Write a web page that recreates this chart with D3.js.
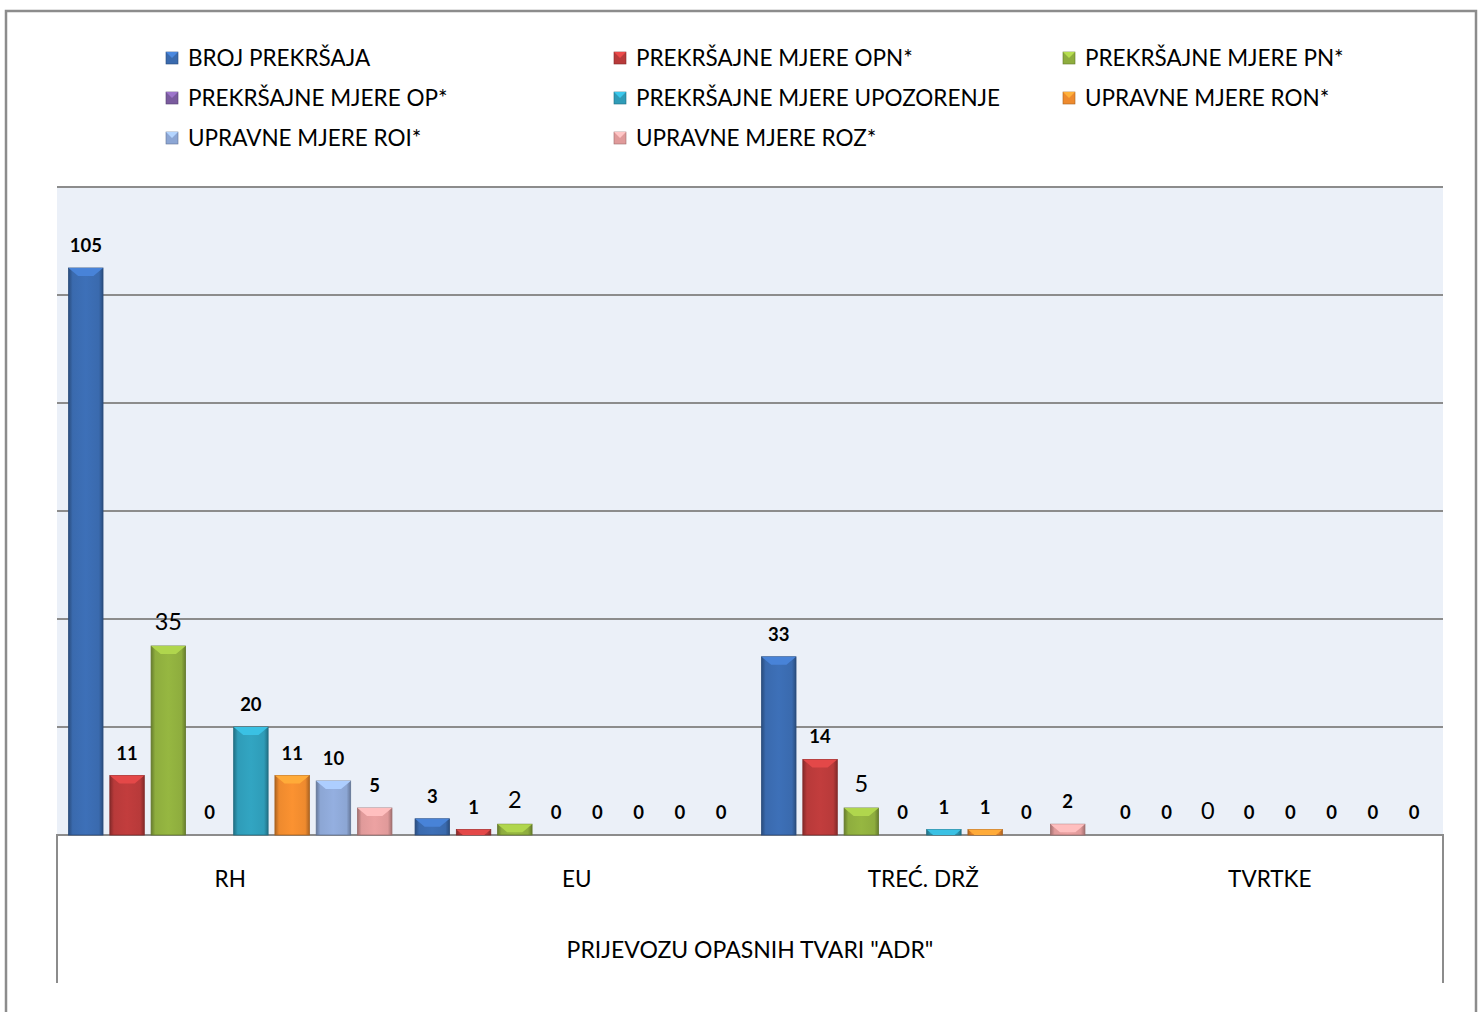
<!DOCTYPE html>
<html>
<head>
<meta charset="utf-8">
<script src="https://cdn.jsdelivr.net/npm/d3@7"></script>
<style>
  body { margin: 0; background: #fff; }
  text { font-family: Lato, "Open Sans", sans-serif; }
</style>
</head>
<body>
<div id="chart"></div>
<script>
"use strict";
// categories and series
const categories = ["RH", "EU", "TREĆ. DRŽ", "TVRTKE"]
const groupLabel = 'PRIJEVOZU OPASNIH TVARI "ADR"'
const seriesNames = [
  "BROJ PREKRŠAJA", "PREKRŠAJNE MJERE OPN*", "PREKRŠAJNE MJERE PN*",
  "PREKRŠAJNE MJERE OP*", "PREKRŠAJNE MJERE UPOZORENJE", "UPRAVNE MJERE RON*",
  "UPRAVNE MJERE ROI*", "UPRAVNE MJERE ROZ*"
]
const brojPrekrsaja = [105, 3, 33, 0]
const mjereOPN = [11, 1, 14, 0]
const mjerePN = [35, 2, 5, 0]
const mjereOP = [0, 0, 0, 0]
const mjereUpozorenje = [20, 0, 1, 0]
const mjereRON = [11, 0, 1, 0]
const mjereROI = [10, 0, 0, 0]
const mjereROZ = [5, 0, 2, 0]
const yTicks = [0, 20, 40, 60, 80, 100, 120]

const seriesValues = [brojPrekrsaja, mjereOPN, mjerePN, mjereOP, mjereUpozorenje, mjereRON, mjereROI, mjereROZ]
const colors = ["#3a6aae", "#b83a3a", "#8ead3e", "#7a5b9e", "#2f9cb8", "#ee8a2e", "#8ca6d4", "#e09a9a"]

const m = { width: 1481, height: 1012 }
const plot = { left: 57, right: 1443, top: 187, bottom: 835 }

const svg = d3.select("#chart").append("svg")
    .attr("width", m.width)
    .attr("height", m.height)

const defs = svg.append("defs")
colors.forEach(function(c, i){
  let base = d3.color(c)
  let g = defs.append("linearGradient").attr("id", "grad" + i)
  g.append("stop").attr("offset", "0%").attr("stop-color", base.darker(0.9))
  g.append("stop").attr("offset", "12%").attr("stop-color", base)
  g.append("stop").attr("offset", "50%").attr("stop-color", base.brighter(0.15))
  g.append("stop").attr("offset", "88%").attr("stop-color", base)
  g.append("stop").attr("offset", "100%").attr("stop-color", base.darker(0.9))
})

// outer frame
svg.append("path")
    .attr("d", "M6,1012V11H1476V1012")
    .attr("fill", "none")
    .attr("stroke", "#8c8c8c")
    .attr("stroke-width", 2.5)

// scales
const x0 = d3.scaleBand()
    .domain(categories)
    .range([plot.left, plot.right])
    .padding(0)
const x1 = d3.scaleBand()
    .domain(d3.range(seriesNames.length))
    .range([0, x0.bandwidth()])
    .paddingInner(0.165)
    .paddingOuter(0.28)
const y = d3.scaleLinear()
    .domain([0, 120])
    .range([plot.bottom, plot.top])

// plot background + gridlines
svg.append("rect")
    .attr("x", plot.left)
    .attr("y", plot.top)
    .attr("width", plot.right - plot.left)
    .attr("height", plot.bottom - plot.top)
    .attr("fill", "#ebf0f8")
svg.append("g")
    .selectAll("line")
    .data(yTicks)
    .enter()
    .append("line")
      .attr("x1", plot.left)
      .attr("x2", plot.right)
      .attr("y1", d => y(d))
      .attr("y2", d => y(d))
      .attr("stroke", "#8c8c8c")
      .attr("stroke-width", 2)

// category axis box
svg.append("path")
    .attr("d", `M${plot.left},983V${plot.bottom}H${plot.right}V983`)
    .attr("fill", "none")
    .attr("stroke", "#8c8c8c")
    .attr("stroke-width", 2)

// bars
const groups = svg.append("g")
  .selectAll("g")
  .data(categories)
  .enter()
  .append("g")
    .attr("transform", d => "translate(" + x0(d) + ",0)")

groups.each(function(cat, ci){
  let gg = d3.select(this)
  let data = seriesValues.map((vals, si) => ({ si: si, v: vals[ci] }))
  let bw = x1.bandwidth()
  let bars = gg.selectAll(".bar")
    .data(data.filter(d => d.v > 0))
    .enter()
    .append("g")
  bars.append("rect")
      .attr("x", d => x1(d.si))
      .attr("y", d => y(d.v))
      .attr("width", bw)
      .attr("height", d => y(0) - y(d.v))
      .attr("fill", d => "url(#grad" + d.si + ")")
      .attr("stroke", d => d3.color(colors[d.si]).darker(1))
      .attr("stroke-width", 0.8)
  // top bevel
  bars.append("path")
      .attr("d", function(d){
        let x = x1(d.si), t = y(d.v), h = Math.min(8, y(0) - y(d.v))
        let b = Math.min(10, h * 1.2)
        return `M${x},${t}H${x + bw}L${x + bw - b},${t + h}H${x + b}Z`
      })
      .attr("fill", d => d3.color(colors[d.si]).brighter(0.6))
  // value labels
  gg.selectAll(".lbl")
    .data(data)
    .enter()
    .append("text")
      .attr("x", d => x1(d.si) + bw / 2)
      .attr("y", d => y(d.v) - 16)
      .attr("text-anchor", "middle")
      .attr("font-size", d => d.si == 2 ? "23.5px" : "18.5px")
      .attr("font-weight", d => d.si == 2 ? "normal" : "bold")
      .attr("fill", "#000")
      .text(d => d.v)
})

// category labels
svg.append("g")
  .selectAll("text")
  .data(categories)
  .enter()
  .append("text")
    .attr("x", d => x0(d) + x0.bandwidth() / 2)
    .attr("y", 887)
    .attr("text-anchor", "middle")
    .attr("font-size", "22.5px")
    .text(d => d)
svg.append("text")
    .attr("x", (plot.left + plot.right) / 2)
    .attr("y", 958)
    .attr("text-anchor", "middle")
    .attr("font-size", "23px")
    .text(groupLabel)

// legend
const legCols = [166, 614, 1063]
const legRows = [58, 98, 138]
const legend = svg.append("g")
  .selectAll("g")
  .data(seriesNames)
  .enter()
  .append("g")
    .attr("transform", (d, i) => "translate(" + legCols[i % 3] + "," + legRows[Math.floor(i / 3)] + ")")
legend.append("rect")
    .attr("x", 0)
    .attr("y", -6)
    .attr("width", 12)
    .attr("height", 12)
    .attr("fill", (d, i) => colors[i])
    .attr("stroke", (d, i) => d3.color(colors[i]).darker(1))
    .attr("stroke-width", 0.6)
legend.append("path")
    .attr("d", "M0,-6H12L6,0Z")
    .attr("fill", (d, i) => d3.color(colors[i]).brighter(0.7))
legend.append("text")
    .attr("x", 22)
    .attr("y", 8)
    .attr("font-size", "22.5px")
    .text(d => d)
</script>
</body>
</html>
